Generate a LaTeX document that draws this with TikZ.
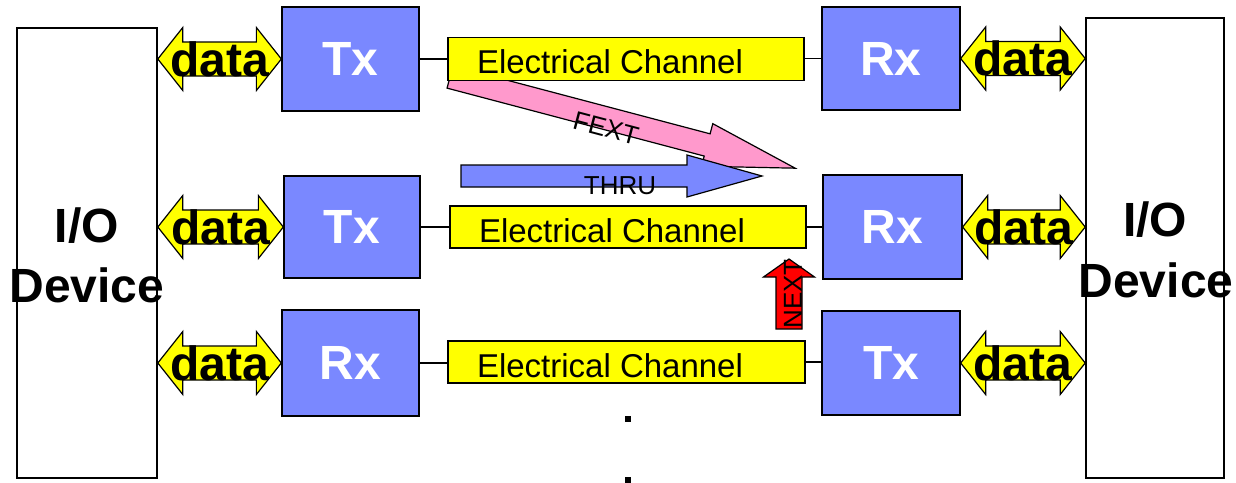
\documentclass[tikz,border=0pt]{standalone}
\usepackage{fontspec}
\setmainfont{Liberation Sans}
\usetikzlibrary{calc}
\definecolor{boxblue}{RGB}{122,136,255}
\definecolor{fextpink}{RGB}{255,153,204}
\definecolor{chyellow}{RGB}{255,255,0}
\definecolor{nextred}{RGB}{255,0,0}
\tikzset{
  iobox/.style={draw, line width=1.6pt, fill=white, inner sep=0pt},
  trx/.style={draw, line width=1.3pt, fill=boxblue, inner sep=0pt, text=white,
    font=\fontsize{48}{56}\selectfont\bfseries},
  chan/.style={draw, line width=1.3pt, fill=chyellow, inner sep=0pt},
  chtext/.style={font=\fontsize{33}{40}\selectfont, inner sep=0pt, anchor=base},
  datatext/.style={font=\fontsize{48}{56}\selectfont\bfseries, inner sep=0pt},
  iotext/.style={font=\fontsize{48}{56}\selectfont\bfseries, inner sep=0pt, anchor=base},
  blockarrow/.style={draw, line width=1.2pt, line join=miter},
  smalltext/.style={font=\fontsize{26}{30}\selectfont, inner sep=0pt},
  wire/.style={line width=1.3pt},
  dotsq/.style={fill=black}
}
\newcommand\dataarr[2]{%
  \draw[blockarrow, fill=chyellow] let \p1=(#1), \p2=(#2) in
    (\x1,\y1) -- (\x1+25pt,\y1+31.5pt) -- (\x1+25pt,\y1+17pt) --
    (\x2-25pt,\y1+17pt) -- (\x2-25pt,\y1+31.5pt) -- (\x2,\y1) --
    (\x2-25pt,\y1-31.5pt) -- (\x2-25pt,\y1-17pt) -- (\x1+25pt,\y1-17pt) --
    (\x1+25pt,\y1-31.5pt) -- cycle;}
\begin{document}
\begin{tikzpicture}[x=1pt,y=-1pt]
\useasboundingbox (0,0) rectangle (1236,482);
\fill[white] (0,0) rectangle (1236,482);

% I/O devices
\node[iobox, minimum width=140pt, minimum height=450pt] (io1) at (87,253) {};
\node[iobox, minimum width=138pt, minimum height=460pt] (io2) at (1155,248) {};

% FEXT arrow (under channel)
\begin{scope}[shift={(450,77)}, rotate=-14.8]
\draw[blockarrow, fill=fextpink] (0,-11.5) -- (266,-11.5) -- (266,-22) -- (357,0)
  -- (266,22) -- (266,11.5) -- (0,11.5) -- cycle;
\end{scope}
% THRU arrow
\draw[blockarrow, fill=boxblue] (461,165) -- (687,165) -- (687,155) -- (762,176)
  -- (687,197) -- (687,187) -- (461,187) -- cycle;
% NEXT arrow
\draw[blockarrow, fill=nextred] (776,329) -- (776,277) -- (763.5,277) -- (789,259)
  -- (814.5,277) -- (802,277) -- (802,329) -- cycle;

% Tx / Rx boxes
\node[trx, minimum width=137pt, minimum height=104pt] (tx1) at (350.5,59) {Tx};
\node[trx, minimum width=138pt, minimum height=103pt] (rx1) at (891,58.5) {Rx};
\node[trx, minimum width=136pt, minimum height=102pt] (tx2) at (352,227) {Tx};
\node[trx, minimum width=139pt, minimum height=104pt] (rx2) at (892.5,227) {Rx};
\node[trx, minimum width=137pt, minimum height=106pt] (rx3) at (350.5,363) {Rx};
\node[trx, minimum width=138pt, minimum height=104pt] (tx3) at (891,363) {Tx};

% channels
\node[chan, minimum width=356pt, minimum height=43pt] (ch1) at (626,58.7) {};
\node[chan, minimum width=356pt, minimum height=42pt] (ch2) at (628,227) {};
\node[chan, minimum width=357pt, minimum height=42pt] (ch3) at (626.5,362) {};
\node[chtext] (cht1) at (610,73.5) {Electrical Channel};
\node[chtext] (cht2) at (612,242) {Electrical Channel};
\node[chtext] (cht3) at (610,377) {Electrical Channel};

% wires
\draw[wire] (tx1.east) -- (tx1.east -| ch1.west);
\draw[wire] (ch1.east) -- (ch1.east -| rx1.west);
\draw[wire] (tx2.east) -- (tx2.east -| ch2.west);
\draw[wire] (ch2.east) -- (ch2.east -| rx2.west);
\draw[wire] (rx3.east) -- (rx3.east -| ch3.west);
\draw[wire] (ch3.east) -- (ch3.east -| tx3.west);

% crosstalk labels
\node[smalltext, rotate=-14.8] (fext) at (606,128) {FEXT};
\node[smalltext, anchor=base] (thru) at (620,194) {THRU};
\node[smalltext, rotate=90] (next) at (793,294) {NEXT};

% data arrows
\dataarr{io1.east |- tx1.west}{tx1.west}
\dataarr{io1.east |- tx2.west}{tx2.west}
\dataarr{io1.east |- rx3.west}{rx3.west}
\dataarr{rx1.east}{io2.west |- rx1.east}
\dataarr{rx2.east}{io2.west |- rx2.east}
\dataarr{tx3.east}{io2.west |- tx3.east}
\node[datatext] (dl1) at ($(io1.east |- tx1.west)!0.5!(tx1.west)$) {data};
\node[datatext] (dl2) at ($(io1.east |- tx2.west)!0.5!(tx2.west)$) {data};
\node[datatext] (dl3) at ($(io1.east |- rx3.west)!0.5!(rx3.west)$) {data};
\node[datatext] (dr1) at ($(rx1.east)!0.5!(io2.west |- rx1.east)$) {data};
\node[datatext] (dr2) at ($(rx2.east)!0.5!(io2.west |- rx2.east)$) {data};
\node[datatext] (dr3) at ($(tx3.east)!0.5!(io2.west |- tx3.east)$) {data};

% I/O device labels
\node[iotext] (io1a) at (87,242) {I/O};
\node[iotext] (io1b) at (87,302) {Device};
\node[iotext] (io2a) at (1155,236) {I/O};
\node[iotext] (io2b) at (1156,297) {Device};

% continuation dots
\fill[dotsq] (625,416) rectangle (631,422);
\fill[dotsq] (625,477) rectangle (631,483);
\end{tikzpicture}
\end{document}
